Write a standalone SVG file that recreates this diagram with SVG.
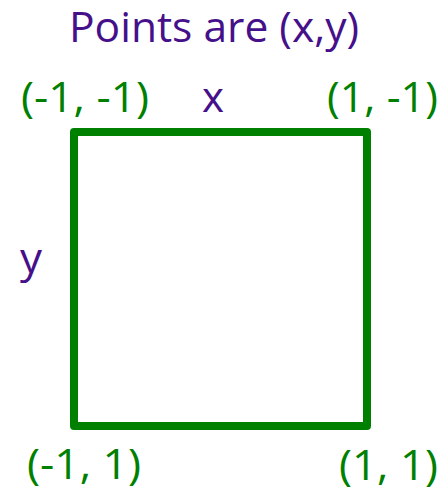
<svg xmlns="http://www.w3.org/2000/svg" width="442" height="490" viewBox="0 0 442 490">
<style>
text{font-family:"Open Sans","Liberation Sans",sans-serif;font-size:42px}
.p{fill:#45108A}
.g{fill:#008000}
</style>
<rect width="442" height="490" fill="#fff"/>
<g id="connectors">
<rect id="square" x="74" y="132" width="293" height="294" fill="none" stroke="#008000" stroke-width="8" stroke-linejoin="round"/>
</g>
<g id="title"><text class="p" x="69" y="42" textLength="290" lengthAdjust="spacingAndGlyphs">Points are (x,y)</text></g>
<g id="axis-x"><text class="p" x="202" y="112" textLength="22" lengthAdjust="spacingAndGlyphs">x</text></g>
<g id="axis-y"><text class="p" x="20" y="273" textLength="22" lengthAdjust="spacingAndGlyphs">y</text></g>
<g id="corner-tl"><text class="g" x="21" y="112" textLength="128" lengthAdjust="spacingAndGlyphs">(-1, -1)</text></g>
<g id="corner-tr"><text class="g" x="327" y="112" textLength="111" lengthAdjust="spacingAndGlyphs">(1, -1)</text></g>
<g id="corner-bl"><text class="g" x="27" y="479" textLength="114" lengthAdjust="spacingAndGlyphs">(-1, 1)</text></g>
<g id="corner-br"><text class="g" x="339" y="480" textLength="99" lengthAdjust="spacingAndGlyphs">(1, 1)</text></g>
</svg>
